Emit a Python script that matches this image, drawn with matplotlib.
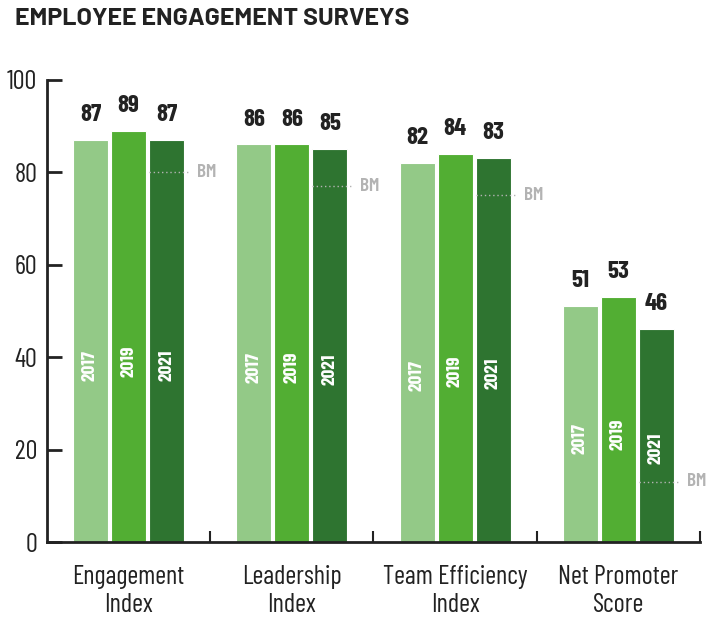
import numpy as np
import matplotlib
matplotlib.use("Agg")
import matplotlib.pyplot as plt

plt.rcParams['font.family'] = ['Barlow Condensed', 'DejaVu Sans']

categories = ["Engagement\nIndex", "Leadership\nIndex", "Team Efficiency\nIndex", "Net Promoter\nScore"]
years = ["2017", "2019", "2021"]
v2017 = [87, 86, 82, 51]
v2019 = [89, 86, 84, 53]
v2021 = [87, 85, 83, 46]
benchmark = [80, 77, 75, 13]

colors = ["#93c987", "#52ae33", "#2e7430"]
bm_color = "#b3b3b3"
dark = "#222222"

fig = plt.figure(figsize=(7.10, 6.23), dpi=100)
ax = fig.add_axes([0.066, 0.130, 0.920, 0.742])

x = np.arange(len(categories))
w = 0.215
step = 0.233
series = [v2017, v2019, v2021]
for i, vals in enumerate(series):
    pos = x + (i - 1) * step
    ax.bar(pos, vals, width=w, color=colors[i], edgecolor="white", linewidth=0.8, zorder=2)
    for px, v in zip(pos, vals):
        ax.text(px, v + 3, str(v), ha="center", va="bottom", fontsize=18,
                fontweight="bold", color=dark)
        ax.text(px, v * 0.44, years[i], ha="center", va="center", rotation=90,
                fontsize=14, fontweight="bold", color="white", zorder=3)

# benchmark markers
for xi, b in zip(x, benchmark):
    x0 = xi + step - w / 2
    x1 = xi + step + w / 2 + 0.03
    ax.plot([x0, x1], [b, b], color=bm_color, linestyle=(0, (1, 2)), linewidth=1, zorder=4)
    ax.text(x1 + 0.05, b, "BM", ha="left", va="center", fontsize=14,
            fontweight="semibold", color=bm_color)

ax.set_xlim(-0.5, 3.5)
ax.set_ylim(0, 100)
ax.set_yticks(np.arange(0, 101, 20))
ax.set_xticks(x + 0.5)
ax.set_xticklabels([])
ax.tick_params(axis="y", direction="in", length=11, width=2, color=dark,
               labelsize=19, labelcolor=dark, pad=7)
ax.tick_params(axis="x", direction="in", length=8, width=1.5, color=dark)
for i, c in enumerate(categories):
    ax.text(x[i], -5, c, ha="center", va="top", fontsize=19, color=dark,
            linespacing=1.2)

for s in ["top", "right"]:
    ax.spines[s].set_visible(False)
for s in ["left", "bottom"]:
    ax.spines[s].set_linewidth(2)
    ax.spines[s].set_color(dark)

fig.text(0.021, 0.987, "EMPLOYEE ENGAGEMENT SURVEYS", ha="left", va="top",
         fontsize=18, fontweight="bold", color=dark, family=["Barlow", "DejaVu Sans"])

fig.savefig("out.png", dpi=100)
